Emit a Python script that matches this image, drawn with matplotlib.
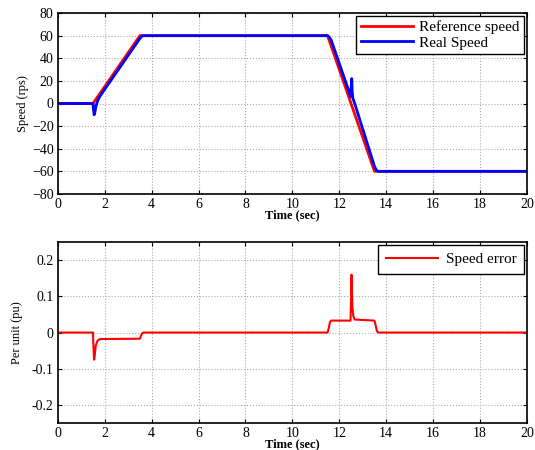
import matplotlib.pyplot as plt
from matplotlib.ticker import FormatStrFormatter

plt.rcParams['font.family'] = ['Liberation Serif', 'DejaVu Serif']
plt.rcParams['axes.unicode_minus'] = True

# reference speed (rps)
t_ref = [0, 1.5, 3.5, 11.5, 13.5, 20]
ref_speed = [0, 0, 60, 60, -60, -60]

# measured speed (rps)
t_real = [0, 1.5, 1.52, 1.55, 1.58, 1.62, 1.7, 1.8, 3.5, 3.58, 3.65, 11.5, 11.58, 11.65,
          12.44, 12.48, 12.51, 12.53, 12.55, 12.58, 12.65, 13.5, 13.58, 13.65, 20]
real_speed = [0, 0, -5, -10, -8, -3, 2.5, 6.5, 57.5, 59.5, 60, 60, 58.5, 56.3,
              9.0, 6.0, 15, 22, 10, 4.5, 0.5, -55.6, -59, -60, -60]

# speed error (pu)
t_err = [0, 1.5, 1.52, 1.55, 1.58, 1.62, 1.7, 1.8, 3.5, 3.55, 3.6, 3.65, 11.5, 11.55, 11.6, 11.65,
         12.48, 12.5, 12.52, 12.54, 12.56, 12.6, 12.66, 13.5, 13.55, 13.6, 13.65, 20]
err = [0, 0, -0.04, -0.075, -0.06, -0.035, -0.022, -0.018, -0.017, -0.008, -0.002, 0,
       0, 0.012, 0.028, 0.033, 0.033, 0.09, 0.16, 0.11, 0.07, 0.045, 0.036,
       0.033, 0.02, 0.005, 0, 0]

fig = plt.figure(figsize=(5.35, 4.5), dpi=100)
ax1 = fig.add_axes([0.108, 0.569, 0.877, 0.402])
ax2 = fig.add_axes([0.108, 0.060, 0.877, 0.402])

ax1.plot(t_ref, ref_speed, color='#ff0000', lw=2, label='Reference speed')
ax1.plot(t_real, real_speed, color='#0000ff', lw=2, label='Real Speed')
ax1.set_xlim(0, 20)
ax1.set_ylim(-80, 80)
ax1.set_xticks(range(0, 21, 2))
ax1.set_yticks(range(-80, 81, 20))
ax1.set_ylabel('Speed (rps)', fontsize=9, labelpad=2)
ax1.set_xlabel('Time (sec)', fontsize=9, fontweight='bold', labelpad=-1)
ax1.legend(loc='upper right', fontsize=11, fancybox=False, framealpha=1,
           edgecolor='black', borderaxespad=0.2, handlelength=3.4, borderpad=0.3,
           labelspacing=0.1, handletextpad=0.4)

ax2.plot(t_err, err, color='#ff0000', lw=1.5, label='Speed error')
ax2.set_xlim(0, 20)
ax2.set_ylim(-0.25, 0.25)
ax2.set_xticks(range(0, 21, 2))
ax2.set_yticks([-0.2, -0.1, 0, 0.1, 0.2])
ax2.yaxis.set_major_formatter(FormatStrFormatter('%g'))
ax2.set_ylabel('Per unit (pu)', fontsize=9, labelpad=6)
ax2.set_xlabel('Time (sec)', fontsize=9, fontweight='bold', labelpad=-1)
ax2.legend(loc='upper right', fontsize=11, fancybox=False, framealpha=1,
           edgecolor='black', borderaxespad=0.2, handlelength=3.4, borderpad=0.5,
           handletextpad=0.5)

for ax in (ax1, ax2):
    ax.grid(True, linestyle=':', color='#aaaaaa', lw=0.8)
    ax.tick_params(direction='in', top=True, right=True, labelsize=10, length=3, pad=3)
    for s in ax.spines.values():
        s.set_linewidth(1.2)
    ax.get_legend().get_frame().set_linewidth(1.0)

fig.savefig('out.png', dpi=100)
